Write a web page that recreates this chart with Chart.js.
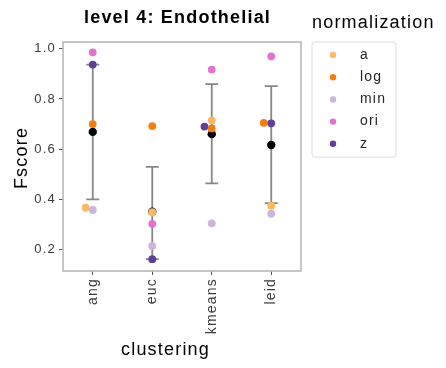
<!DOCTYPE html>
<html>
<head>
<meta charset="utf-8">
<script src="https://cdn.jsdelivr.net/npm/chart.js@4/dist/chart.umd.min.js"></script>
<style>
  html, body { margin: 0; padding: 0; background: #ffffff; }
  #wrap { width: 446px; height: 368px; position: relative; }
</style>
</head>
<body>
<div id="wrap"><canvas id="chart" width="446" height="368"></canvas></div>
<script>
// Clustering methods on the x axis
const categories = ['ang', 'euc', 'kmeans', 'leid'];

// Normalization methods (hue) and their F-scores per clustering method
const normNames = ['a', 'log', 'min', 'ori', 'z'];
const aVals   = [0.367, 0.349, 0.715, 0.375];
const logVals = [0.700, 0.692, 0.683, 0.705];
const minVals = [0.358, 0.215, 0.305, 0.343];
const oriVals = [0.986, 0.303, 0.917, 0.970];
const zVals   = [0.937, 0.162, 0.690, 0.703];

// Mean F-score and the +/- sd interval per clustering method
const meanVals = [0.669, 0.351, 0.660, 0.617];
const sdLow    = [0.400, 0.162, 0.464, 0.385];
const sdHigh   = [0.937, 0.530, 0.859, 0.851];

// Y axis tick values
const yTicks = [0.2, 0.4, 0.6, 0.8, 1.0];

const normColors = ['#fdb863', '#f57d0f', '#cbb5dc', '#e571cf', '#613d9c'];
const seriesVals = [aVals, logVals, minVals, oriVals, zVals];

const FONT = "'Liberation Sans', Arial, sans-serif";
const SPACING = '1.2px';

// Beeswarm-style horizontal dodge so overlapping points sit side by side
const swarmPlugin = {
  id: 'swarm',
  afterDatasetsUpdate(chart) {
    const D = 7.5;
    const metas = chart.data.datasets
      .map((ds, i) => ({ ds, meta: chart.getDatasetMeta(i) }))
      .filter(o => o.ds.swarm);
    categories.forEach((c, j) => {
      const cx = chart.scales.x.getPixelForValue(j);
      const pts = metas.map(o => o.meta.data[j]).filter(Boolean);
      pts.sort((p, q) => q.y - p.y);
      const placed = [];
      pts.forEach(el => {
        const cands = [0];
        placed.forEach(p => {
          const dy = el.y - p.y;
          if (Math.abs(dy) < D) {
            const dx = Math.sqrt(D * D - dy * dy);
            cands.push(p.off - dx, p.off + dx);
          }
        });
        const ok = cands.filter(cd => placed.every(p => Math.hypot(cd - p.off, el.y - p.y) >= D - 1e-6));
        ok.sort((a, b) => Math.abs(a) - Math.abs(b) || a - b);
        const off = ok.length ? ok[0] : 0;
        placed.push({ y: el.y, off });
        el.x = cx + off;
      });
    });
  }
};

// Background, frame, error bars, title, axis titles and legend
const decorPlugin = {
  id: 'decor',
  beforeDraw(chart) {
    const ctx = chart.ctx;
    ctx.letterSpacing = SPACING;
    ctx.save();
    ctx.fillStyle = '#ffffff';
    ctx.fillRect(0, 0, chart.width, chart.height);
    ctx.restore();
  },
  beforeDatasetsDraw(chart) {
    const ctx = chart.ctx;
    const a = chart.chartArea;
    const xs = chart.scales.x, ys = chart.scales.y;
    ctx.save();
    // frame
    ctx.strokeStyle = '#b8b8b8';
    ctx.lineWidth = 1.6;
    ctx.strokeRect(a.left, a.top, a.right - a.left, a.bottom - a.top);
    // sd error bars
    ctx.strokeStyle = '#878787';
    ctx.lineWidth = 1.8;
    categories.forEach((c, j) => {
      const x = xs.getPixelForValue(j);
      const yl = ys.getPixelForValue(sdLow[j]);
      const yh = ys.getPixelForValue(sdHigh[j]);
      ctx.beginPath();
      ctx.moveTo(x, yl); ctx.lineTo(x, yh);
      ctx.moveTo(x - 6.5, yl); ctx.lineTo(x + 6.5, yl);
      ctx.moveTo(x - 6.5, yh); ctx.lineTo(x + 6.5, yh);
      ctx.stroke();
    });
    ctx.restore();
  },
  afterDraw(chart) {
    const ctx = chart.ctx;
    ctx.save();
    ctx.letterSpacing = SPACING;
    ctx.fillStyle = '#000000';
    // title
    ctx.font = 'bold 18px ' + FONT;
    ctx.textAlign = 'left';
    ctx.textBaseline = 'alphabetic';
    ctx.fillText('level 4: Endothelial', 84, 23);
    // x axis title
    ctx.font = '18px ' + FONT;
    ctx.fillText('clustering', 121, 355);
    // y axis title
    ctx.save();
    ctx.translate(27, 158);
    ctx.rotate(-Math.PI / 2);
    ctx.textAlign = 'center';
    ctx.fillText('Fscore', 0, 0);
    ctx.restore();
    // legend title
    ctx.fillText('normalization', 312, 28);
    // legend box
    const bx = 312, by = 42, bw = 84, bh = 115, r = 3;
    ctx.beginPath();
    ctx.moveTo(bx + r, by);
    ctx.arcTo(bx + bw, by, bx + bw, by + bh, r);
    ctx.arcTo(bx + bw, by + bh, bx, by + bh, r);
    ctx.arcTo(bx, by + bh, bx, by, r);
    ctx.arcTo(bx, by, bx + bw, by, r);
    ctx.closePath();
    ctx.fillStyle = '#ffffff';
    ctx.fill();
    ctx.strokeStyle = '#dcdcdc';
    ctx.lineWidth = 1;
    ctx.stroke();
    // legend entries
    ctx.font = '14px ' + FONT;
    ctx.textBaseline = 'middle';
    normNames.forEach((n, i) => {
      const y = 55 + i * 22.2;
      ctx.beginPath();
      ctx.arc(333, y, 3.2, 0, Math.PI * 2);
      ctx.fillStyle = normColors[i];
      ctx.fill();
      ctx.fillStyle = '#262626';
      ctx.fillText(n, 360, y);
    });
    ctx.restore();
  }
};

// Mean markers go first so the individual scores sit on top of them
const datasets = [{
  label: 'mean',
  data: meanVals,
  showLine: false,
  pointRadius: 4.2,
  pointHoverRadius: 4.2,
  pointBackgroundColor: '#000000',
  pointBorderWidth: 0,
  borderColor: '#000000',
  order: 10
}];
normNames.forEach((n, i) => datasets.push({
  label: n,
  data: seriesVals[i],
  swarm: true,
  showLine: false,
  pointRadius: 3.9,
  pointHoverRadius: 3.9,
  pointBackgroundColor: normColors[i],
  pointBorderWidth: 0,
  borderColor: normColors[i],
  order: 5 - i
}));

new Chart(document.getElementById('chart'), {
  type: 'line',
  data: { labels: categories, datasets },
  options: {
    responsive: false,
    animation: false,
    events: [],
    layout: { padding: { left: 0, right: 145, top: 42, bottom: 0 } },
    plugins: {
      legend: { display: false },
      title: { display: false },
      tooltip: { enabled: false }
    },
    scales: {
      x: {
        type: 'category',
        offset: true,
        grid: { display: true, drawOnChartArea: false, offset: false, tickLength: 4, tickColor: '#555555', tickWidth: 1 },
        border: { display: false },
        ticks: {
          minRotation: 90, maxRotation: 90, padding: 3,
          color: '#3a3a3a',
          font: { family: FONT, size: 14 }
        },
        afterFit(scale) { scale.height = 97; }
      },
      y: {
        type: 'linear',
        min: 0.115,
        max: 1.027,
        grid: { display: true, drawOnChartArea: false, tickLength: 4, tickColor: '#555555', tickWidth: 1 },
        border: { display: false },
        ticks: {
          padding: 3,
          color: '#3a3a3a',
          font: { family: FONT, size: 13 },
          callback: v => Number(v).toFixed(1)
        },
        afterBuildTicks(scale) { scale.ticks = yTicks.map(v => ({ value: v })); },
        afterFit(scale) { scale.width = 63; }
      }
    }
  },
  plugins: [swarmPlugin, decorPlugin]
});
</script>
</body>
</html>
